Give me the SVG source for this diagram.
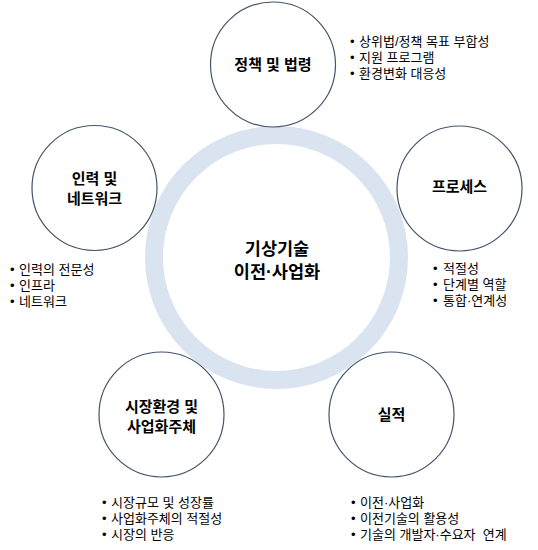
<svg xmlns="http://www.w3.org/2000/svg" width="538" height="550" viewBox="0 0 538 550">
<style>
.ring{fill:none;stroke:#dae3f0;stroke-width:18}
.node{fill:#ffffff;stroke:#44546a;stroke-width:1.2}
.lbl{font-family:"Liberation Sans","Noto Sans CJK KR",sans-serif;font-size:15px;font-weight:bold;fill:#000;text-anchor:middle}
.ctr{font-family:"Liberation Sans","Noto Sans CJK KR",sans-serif;font-size:17.5px;font-weight:bold;fill:#000;text-anchor:middle}
.lst{font-family:"Liberation Sans","Noto Sans CJK KR",sans-serif;font-size:13px;fill:#000}
</style>
<rect width="538" height="550" fill="#ffffff"/>
<g id="center">
<circle class="ring" cx="276.5" cy="257.5" r="122.5"/>
<text class="ctr" x="277" y="255">기상기술</text>
<text class="ctr" x="277" y="278">이전·사업화</text>
</g>
<g id="connectors"></g>
<g id="policy">
<circle class="node" cx="273" cy="64.5" r="62.5"/>
<text class="lbl" x="273" y="70">정책 및 법령</text>
<text class="lst" x="350" y="46">•</text><text class="lst" x="359" y="46">상위법/정책 목표 부합성</text>
<text class="lst" x="350" y="62">•</text><text class="lst" x="359" y="62">지원 프로그램</text>
<text class="lst" x="350" y="78">•</text><text class="lst" x="359" y="78">환경변화 대응성</text>
</g>
<g id="process">
<circle class="node" cx="459.5" cy="188.5" r="62.5"/>
<text class="lbl" x="459.5" y="192">프로세스</text>
<text class="lst" x="433" y="273">•</text><text class="lst" x="443" y="273">적절성</text>
<text class="lst" x="433" y="289">•</text><text class="lst" x="443" y="289">단계별 역할</text>
<text class="lst" x="433" y="305">•</text><text class="lst" x="443" y="305">통합·연계성</text>
</g>
<g id="people">
<circle class="node" cx="94.5" cy="188" r="62.5"/>
<text class="lbl" x="94.5" y="184">인력 및</text>
<text class="lbl" x="94.5" y="204">네트워크</text>
<text class="lst" x="10" y="274">•</text><text class="lst" x="19" y="274">인력의 전문성</text>
<text class="lst" x="10" y="290">•</text><text class="lst" x="19" y="290">인프라</text>
<text class="lst" x="10" y="306">•</text><text class="lst" x="19" y="306">네트워크</text>
</g>
<g id="market">
<circle class="node" cx="161.5" cy="414.5" r="62.5"/>
<text class="lbl" x="161.5" y="412">시장환경 및</text>
<text class="lbl" x="161.5" y="432">사업화주체</text>
<text class="lst" x="102" y="507">•</text><text class="lst" x="111" y="507">시장규모 및 성장률</text>
<text class="lst" x="102" y="523">•</text><text class="lst" x="111" y="523">사업화주체의 적절성</text>
<text class="lst" x="102" y="539">•</text><text class="lst" x="111" y="539">시장의 반응</text>
</g>
<g id="performance">
<circle class="node" cx="391.5" cy="414.5" r="62.5"/>
<text class="lbl" x="391.5" y="420">실적</text>
<text class="lst" x="351" y="507">•</text><text class="lst" x="360" y="507">이전·사업화</text>
<text class="lst" x="351" y="523">•</text><text class="lst" x="360" y="523">이전기술의 활용성</text>
<text class="lst" x="351" y="539">•</text><text class="lst" x="360" y="539" xml:space="preserve">기술의 개발자·수요자  연계</text>
</g>
</svg>
